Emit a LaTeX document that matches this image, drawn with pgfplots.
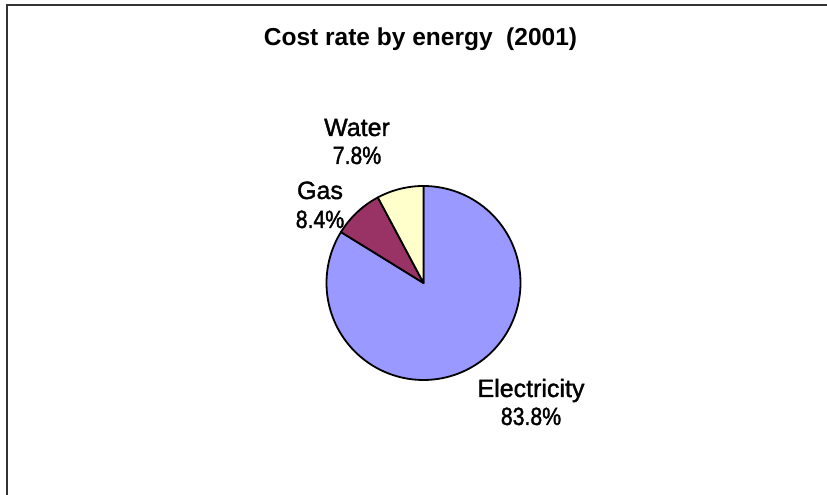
\documentclass[border=0pt]{standalone}
\usepackage{pgfplots}
\pgfplotsset{compat=1.18}
\usepgfplotslibrary{polar}
\usepackage{pgfplotstable}
\usepackage{fontspec}
\setmainfont{Liberation Sans}
\newfontfamily\labfont[FakeBold=1.5]{Liberation Sans}
\newfontfamily\numfont[FakeBold=1.5,FakeStretch=0.85]{Liberation Sans}
\definecolor{elec}{HTML}{9999FF}
\definecolor{gas}{HTML}{993366}
\definecolor{water}{HTML}{FFFFCC}
\definecolor{frame}{HTML}{333333}
\pgfplotstableread{
name share
Electricity 83.8
Gas 8.4
Water 7.8
}\sharetable
\begin{document}
\begin{tikzpicture}[x=1pt,y=1pt]
\pgfplotstablegetelem{0}{share}\of\sharetable \let\sE\pgfplotsretval
\pgfplotstablegetelem{1}{share}\of\sharetable \let\sG\pgfplotsretval
\pgfplotstablegetelem{2}{share}\of\sharetable \let\sW\pgfplotsretval
\pgfmathsetmacro{\aA}{90-3.6*\sE}
\pgfmathsetmacro{\aB}{\aA-3.6*\sG}
\pgfmathsetmacro{\aC}{\aB-3.6*\sW}
\path[use as bounding box] (0,0) rectangle (827,495);
\draw[line width=2pt, color=frame] (828,490) -- (7,490) -- (7,-1);
\begin{polaraxis}[at={(423.5pt,212pt)}, anchor=center, scale only axis,
  width=194pt, height=194pt, ymin=0, ymax=1, hide axis, clip=false]
\addplot[fill=elec, draw=black, line width=1.8pt, line join=round, domain=\aA:90, samples=150] {1} -- (axis cs:0,0) -- cycle;
\addplot[fill=gas, draw=black, line width=1.8pt, line join=round, domain=\aB:\aA, samples=30] {1} -- (axis cs:0,0) -- cycle;
\addplot[fill=water, draw=black, line width=1.8pt, line join=round, domain=\aC:\aB, samples=30] {1} -- (axis cs:0,0) -- cycle;
\end{polaraxis}
\node[anchor=base, font=\fontsize{24.5}{29}\selectfont\bfseries] at (420.5,449) {Cost rate by energy\ \ (2001)};
\begin{scope}[every node/.style={anchor=base, inner sep=0pt}]
\node[font=\fontsize{25}{30}\selectfont\labfont] at (357,359) {Water};
\node[font=\fontsize{25}{30}\selectfont\numfont] at (357,331) {7.8\%};
\node[font=\fontsize{25}{30}\selectfont\labfont] at (320,296) {Gas};
\node[font=\fontsize{25}{30}\selectfont\numfont] at (320,267) {8.4\%};
\node[font=\fontsize{25}{30}\selectfont\labfont] at (531,98) {Electricity};
\node[font=\fontsize{25}{30}\selectfont\numfont] at (531,70) {83.8\%};
\end{scope}
\end{tikzpicture}
\end{document}
